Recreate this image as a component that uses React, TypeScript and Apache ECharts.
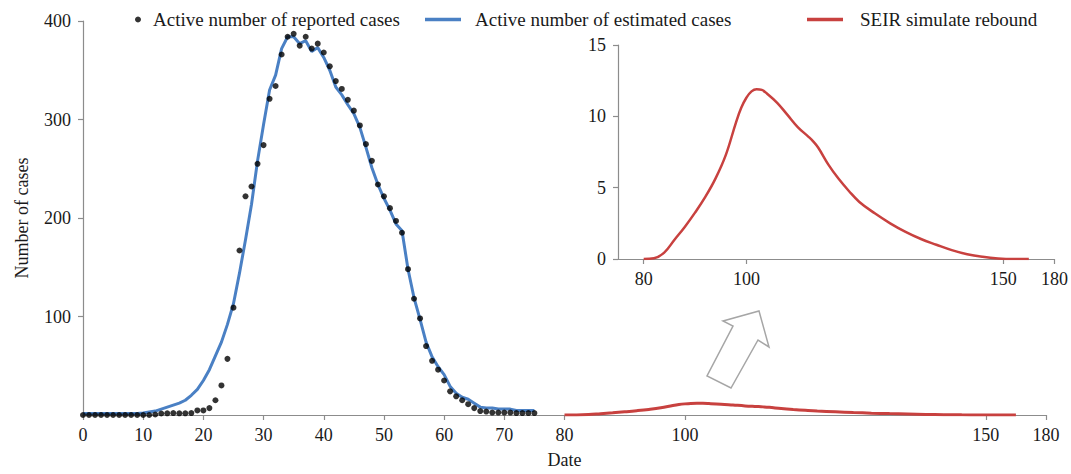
import React, { useEffect, useRef } from "react";
import * as echarts from "echarts";

const S_REPORTED = "Active number of reported cases";
const S_ESTIMATED = "Active number of estimated cases";
const S_SEIR = "SEIR simulate rebound";

const days = [
  0, 1, 2, 3, 4, 5, 6, 7, 8, 9, 10, 11, 12, 13, 14, 15, 16, 17, 18, 19,
  20, 21, 22, 23, 24, 25, 26, 27, 28, 29, 30, 31, 32, 33, 34, 35, 36, 37, 38, 39,
  40, 41, 42, 43, 44, 45, 46, 47, 48, 49, 50, 51, 52, 53, 54, 55, 56, 57, 58, 59,
  60, 61, 62, 63, 64, 65, 66, 67, 68, 69, 70, 71, 72, 73, 74, 75,
];

const reportedCases = [
  0, 0, 0, 0, 0, 0, 0, 0, 0, 0, 0, 0, 0.5, 1.5, 1.7, 2, 1.7, 1.7, 2, 4.6,
  4.6, 7, 15, 30, 57, 109, 167, 222, 232, 255, 274, 321, 334, 366, 384, 387, 375, 384, 372, 377,
  368, 354, 339, 331, 320, 309, 294, 275, 258, 234, 222, 210, 197, 185, 148, 118, 98, 70, 55, 46,
  35, 24, 19, 15, 11, 7, 4, 3.5, 2.5, 2.5, 2.5, 2.5, 2, 2, 2, 2,
];

const estimatedCases = [
  1.5, 1.5, 1.5, 1.5, 1.5, 1.5, 1.5, 1.5, 1.5, 1.5, 2, 3, 4, 6, 8, 10, 12, 15, 20, 26,
  35, 46, 60, 74, 92, 113, 144, 178, 214, 258, 295, 330, 345, 372, 384, 384, 377, 380, 369, 373,
  363, 350, 333, 325, 315, 306, 292, 272, 251, 234, 220, 208, 194, 187, 148, 119, 97, 74, 59, 49,
  41, 29, 22, 18, 16, 12, 8, 7, 7, 6, 6, 6, 4.5, 4.5, 4.5, 4.5,
];

const seirDays = [
  80, 82, 84, 86, 88, 90, 92, 94, 96, 98, 99, 100, 101, 102, 103, 104, 106, 108, 110, 112,
  113, 114, 116, 118, 120, 122, 125, 128, 131, 134, 137, 140, 143, 146, 149, 152, 155,
];
const seirCases = [
  0, 0.05, 0.45, 1.35, 2.25, 3.25, 4.35, 5.65, 7.3, 9.6, 10.6, 11.3, 11.75, 11.9, 11.85, 11.6, 10.95, 10.1, 9.25, 8.6,
  8.25, 7.8, 6.6, 5.6, 4.75, 4.0, 3.2, 2.5, 1.9, 1.4, 1.0, 0.62, 0.33, 0.15, 0.04, 0, 0,
];

const mainTickValues = [0, 10, 20, 30, 40, 50, 60, 70, 80, 100, 150, 160];
const mainTickLabels = ["0", "10", "20", "30", "40", "50", "60", "70", "80", "100", "150", "180"];
const insetTickValues = [80, 100, 150, 160];
const insetTickLabels = ["80", "100", "150", "180"];

const FONT = "'Liberation Serif', 'Times New Roman', serif";
const TEXT = "#1a1a1a";
const AXIS = "#8c8c8c";
const BLUE = "#4a80c4";
const RED = "#c8413f";

function labelFor(values: number[], labels: string[]) {
  return (v: number) => {
    const i = values.indexOf(Math.round(v));
    return i >= 0 ? labels[i] : "";
  };
}

export default function App() {
  const ref = useRef<HTMLDivElement>(null);
  useEffect(() => {
    if (!ref.current) return;
    const chart = echarts.init(ref.current, undefined, { renderer: "svg" });
    const axisLine = { show: true, lineStyle: { color: AXIS, width: 1.2 } };
    const axisTick = { show: true, inside: false, length: 5, lineStyle: { color: AXIS, width: 1.2 } };
    const labelStyle = { fontFamily: FONT, fontSize: 18, color: TEXT };
    const legendText = { fontFamily: FONT, fontSize: 19, color: TEXT };

    chart.setOption({
      animation: false,
      backgroundColor: "#ffffff",
      textStyle: { fontFamily: FONT },
      legend: [
        {
          data: [{ name: S_REPORTED, icon: "circle" }],
          left: 130, top: 5, itemWidth: 6, itemHeight: 6,
          textStyle: { ...legendText, padding: [0, 0, 0, 7] },
        },
        {
          data: [{ name: S_ESTIMATED, icon: "rect" }],
          left: 420, top: 5, itemWidth: 36, itemHeight: 3.5,
          textStyle: { ...legendText, padding: [0, 0, 0, 9] },
        },
        {
          data: [{ name: S_SEIR, icon: "rect" }],
          left: 802, top: 5, itemWidth: 36, itemHeight: 3.5,
          textStyle: { ...legendText, padding: [0, 0, 0, 12] },
        },
      ],
      grid: [
        { left: 83, right: 25, top: 21, bottom: 50 },
        { left: 618, right: 15, top: 45, bottom: 215 },
      ],
      xAxis: [
        {
          gridIndex: 0, type: "value", min: 0, max: 160,
          axisLine, splitLine: { show: false },
          axisTick: { ...axisTick, customValues: mainTickValues },
          axisLabel: { ...labelStyle, margin: 11, customValues: mainTickValues, formatter: labelFor(mainTickValues, mainTickLabels) },
          name: "Date", nameLocation: "middle", nameGap: 36,
          nameTextStyle: { fontFamily: FONT, fontSize: 18, color: TEXT },
        },
        {
          gridIndex: 1, type: "value", min: 75, max: 160,
          axisLine, splitLine: { show: false },
          axisTick: { ...axisTick, customValues: insetTickValues },
          axisLabel: { ...labelStyle, margin: 11, customValues: insetTickValues, formatter: labelFor(insetTickValues, insetTickLabels) },
        },
      ],
      yAxis: [
        {
          gridIndex: 0, type: "value", min: 0, max: 400, interval: 100,
          axisLine, axisTick, splitLine: { show: false },
          axisLabel: { ...labelStyle, margin: 12, showMinLabel: false },
          name: "Number of cases", nameLocation: "middle", nameGap: 52,
          nameTextStyle: { fontFamily: FONT, fontSize: 18, color: TEXT },
        },
        {
          gridIndex: 1, type: "value", min: 0, max: 15, interval: 5,
          axisLine, axisTick, splitLine: { show: false },
          axisLabel: { ...labelStyle, margin: 12 },
        },
      ],
      series: [
        {
          name: S_ESTIMATED, type: "line", xAxisIndex: 0, yAxisIndex: 0,
          data: days.map((d, i) => [d, estimatedCases[i]]),
          showSymbol: false, symbol: "none",
          lineStyle: { color: BLUE, width: 3 }, itemStyle: { color: BLUE }, z: 2,
        },
        {
          name: S_REPORTED, type: "scatter", xAxisIndex: 0, yAxisIndex: 0,
          data: days.map((d, i) => [d, reportedCases[i]]),
          symbolSize: 6, itemStyle: { color: "#000000" }, z: 3,
        },
        {
          name: S_SEIR, type: "line", xAxisIndex: 0, yAxisIndex: 0,
          data: seirDays.map((d, i) => [d, seirCases[i]]),
          showSymbol: false, symbol: "none", smooth: 0.4,
          lineStyle: { color: RED, width: 3 }, itemStyle: { color: RED }, z: 2,
        },
        {
          name: S_SEIR, type: "line", xAxisIndex: 1, yAxisIndex: 1,
          data: seirDays.map((d, i) => [d, seirCases[i]]),
          showSymbol: false, symbol: "none", smooth: 0.4,
          lineStyle: { color: RED, width: 2.5 }, itemStyle: { color: RED }, z: 2,
        },
      ],
      graphic: [
        {
          type: "polygon",
          shape: {
            points: [[759, 311], [769, 347], [758, 340], [731, 388], [707, 376], [733, 326], [723, 321]],
          },
          style: { fill: "#ffffff", stroke: "#a6a6a6", lineWidth: 1.5 },
          z: 10,
        },
      ],
    });
    return () => chart.dispose();
  }, []);
  return (
    <div
      ref={ref}
      style={{ position: "fixed", left: 0, top: 0, width: 1071, height: 474 }}
    />
  );
}
